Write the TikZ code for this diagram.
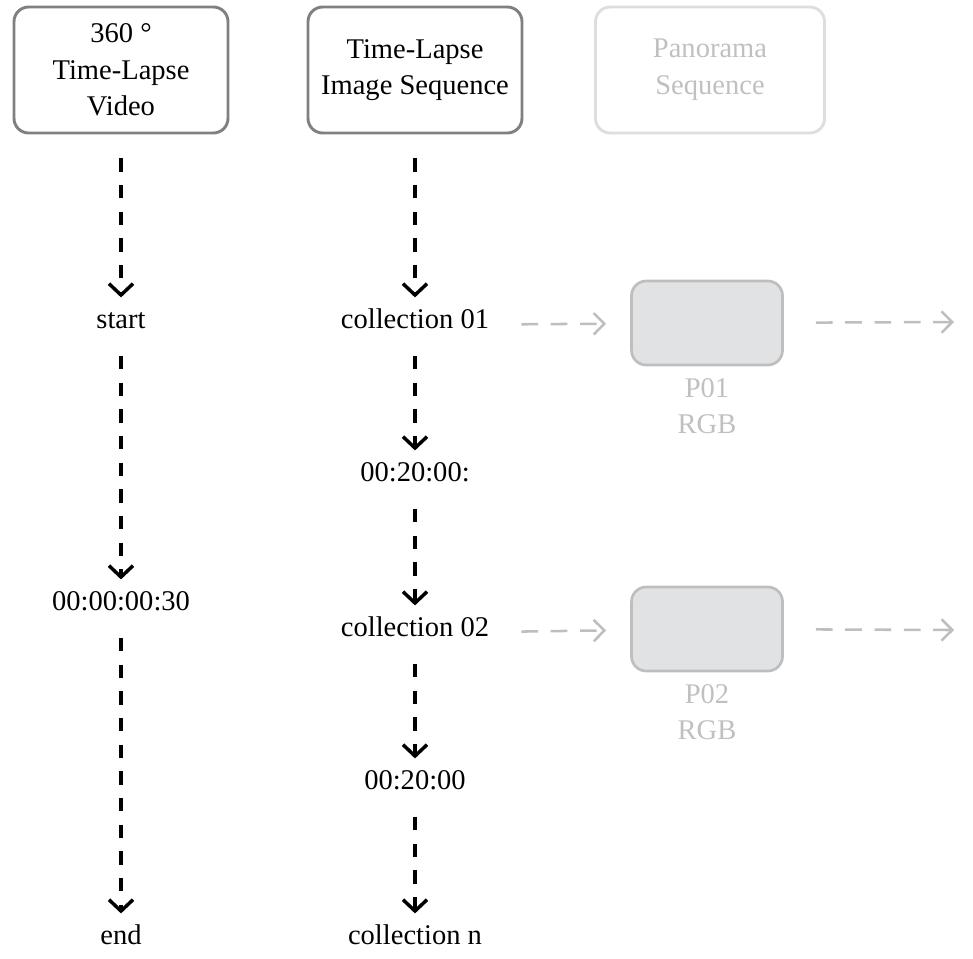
\documentclass[tikz,border=0pt]{standalone}
\usepackage{fontspec}
\setmainfont{Liberation Serif}
\usepackage{tikz}
\usetikzlibrary{shapes,arrows,arrows.meta}
\definecolor{boxGray}{RGB}{128,128,128}
\definecolor{fadeLine}{RGB}{190,190,190}
\definecolor{fadeEdge}{RGB}{222,222,222}
\definecolor{fadeFill}{RGB}{225,226,227}
\definecolor{fadeText}{RGB}{192,192,192}

\begin{document}
\begin{tikzpicture}[x=0.75pt, y=-0.75pt]%
  \tikzset{src box/.style={draw=boxGray, line width=2.2pt, rounded corners=11pt, minimum width=160.5pt, minimum height=94.5pt, align=center, inner sep=0pt},
    seq arrow/.style={draw, black, line width=2.6pt, -{Straight Barb[length=8.5pt,width=18pt]}, dash pattern=on 10pt off 10pt, shorten <=18pt, shorten >=15.5pt},
    pano arrow/.style={draw, fadeLine, line width=1.9pt, -{Straight Barb[length=8pt,width=16pt]}, dash pattern=on 12.5pt off 9.5pt, shorten <=24pt, shorten >=18pt},
    pano box/.style={draw=fadeLine, fill=fadeFill, line width=2pt, rounded corners=11pt, minimum width=113.25pt, minimum height=63pt}}
  \tikzstyle{every node}=[font=\fontsize{21.4}{27.5}\selectfont, text=black]
  \tikzstyle{lbl}=[inner sep=0pt, text height=0.75em, text depth=0.25em]

  % sources
  \node[src box] (video) at (121,70) {360 °\\Time-Lapse\\Video};
  \node[src box] (images) at (415,70) {Time-Lapse\\Image Sequence};
  \node[src box, draw=fadeEdge, text=fadeText, minimum width=171.75pt] (pano) at (710,70) {Panorama\\Sequence};

  % video timeline
  \node[lbl] (vStart) at (121,325) {start};
  \node[lbl] (vStep) at (121,607) {00:00:00:30};
  \node[lbl] (vEnd) at (121,941) {end};

  % image timeline
  \node[lbl] (col01) at (415,325) {collection 01};
  \node[lbl] (gap01) at (415,478) {00:20:00:};
  \node[lbl] (col02) at (415,633) {collection 02};
  \node[lbl] (gap02) at (415,786) {00:20:00};
  \node[lbl] (colN) at (415,941) {collection n};

  % panoramas
  \node[pano box] (P01) at (707,323) {};
  \node[inner sep=0pt, align=center, text=fadeText] (P01lbl) at (707,406) {P01\\RGB};
  \node[pano box] (P02) at (707,629) {};
  \node[inner sep=0pt, align=center, text=fadeText] (P02lbl) at (707,712) {P02\\RGB};
  \coordinate (P01out) at (954,322);
  \coordinate (P02out) at (954,630);

  \path[seq arrow] (video) edge (vStart);
  \path[seq arrow] (vStart) edge (vStep);
  \path[seq arrow] (vStep) edge (vEnd);

  \path[seq arrow] (images) edge (col01);
  \path[seq arrow] (col01) edge (gap01);
  \path[seq arrow] (gap01) edge (col02);
  \path[seq arrow] (col02) edge (gap02);
  \path[seq arrow] (gap02) edge (colN);

  \path[pano arrow] (col01) edge (P01);
  \path[pano arrow, shorten >=0pt] (P01) edge (P01out);
  \path[pano arrow] (col02) edge (P02);
  \path[pano arrow, shorten >=0pt] (P02) edge (P02out);

  \useasboundingbox (0,0) rectangle (973,958);
\end{tikzpicture}
\end{document}
